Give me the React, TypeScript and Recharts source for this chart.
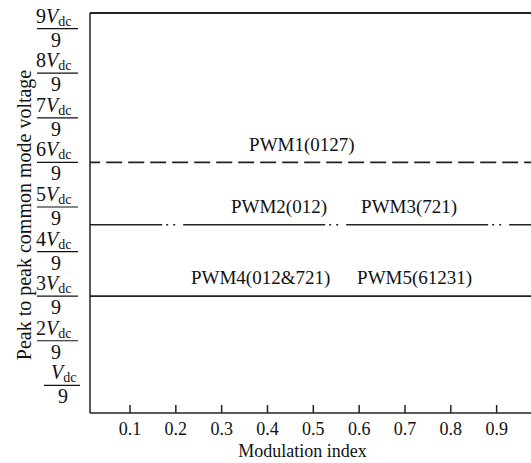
import React from 'react';
import { LineChart, Line, XAxis, YAxis, ReferenceLine, ReferenceDot, Label } from 'recharts';

// modulation index ends of each constant level (clipped by the axis domain)
const modulation = [0, 1];
// peak to peak CMV, in units of Vdc/9
const pwm1 = [6, 6];
const pwm23 = [4.6, 4.6];
const pwm45 = [3, 3];

const xTicks = [0.1, 0.2, 0.3, 0.4, 0.5, 0.6, 0.7, 0.8, 0.9];
const yTicks = [1, 2, 3, 4, 5, 6, 7, 8, 9];

const labelText = ['PWM1(0127)', 'PWM2(012)', 'PWM3(721)', 'PWM4(012&721)', 'PWM5(61231)'];
const labelX = [0.475, 0.425, 0.709, 0.385, 0.721];
const labelLevel = [6, 4.6, 4.6, 3, 3];

const X_DOMAIN: [number, number] = [0.0127, 0.975];
const Y_DOMAIN: [number, number] = [0.38, 9.35];

const data = modulation.map((m, i) => ({
    m,
    pwm1: pwm1[i],
    pwm23: pwm23[i],
    pwm45: pwm45[i],
}));

const FONT = '"Liberation Serif", "Times New Roman", Times, serif';
const INK = '#111';
const LINE = '#222';

// chart sits 8px in from the left edge of the page
const FractionTick = (props: any) => {
    const { y, payload } = props;
    const k = payload.value;
    if (k === 1) {
        return (
            <g fontFamily={FONT}>
                <text x={43} y={y - 6} fontSize={20} fill={INK}>
                    <tspan fontStyle="italic">V</tspan>
                    <tspan fontSize={14} dy={3}>dc</tspan>
                </text>
                <line x1={36} x2={72} y1={y} y2={y} stroke={INK} strokeWidth={1.2} />
                <text x={55} y={y + 18} fontSize={20} fill={INK} textAnchor="middle">9</text>
            </g>
        );
    }
    return (
        <g fontFamily={FONT}>
            <text x={28} y={y - 6} fontSize={20} fill={INK}>
                <tspan>{k}</tspan>
                <tspan fontStyle="italic">V</tspan>
                <tspan fontSize={14} dy={3}>dc</tspan>
            </text>
            <line x1={29} x2={70} y1={y} y2={y} stroke={INK} strokeWidth={1.2} />
            <text x={48} y={y + 18} fontSize={20} fill={INK} textAnchor="middle">9</text>
        </g>
    );
};

// rotated y-axis title
const YTitle = () => (
    <text
        transform="translate(16,215) rotate(-90)"
        textAnchor="middle"
        dominantBaseline="central"
        fontSize={20}
        fill={INK}
        fontFamily={FONT}
    >
        Peak to peak common mode voltage
    </text>
);

const PAGE_CSS = 'html,body{margin:0;padding:0;overflow:hidden;}';

export default function App() {
    return (
        <div style={{ width: 523, height: 463, marginLeft: 8, fontFamily: FONT }}>
            <style>{PAGE_CSS}</style>
            <LineChart width={523} height={463} data={data} margin={{ top: 13, right: 0, bottom: 0, left: 0 }}>
                <XAxis
                    dataKey="m"
                    type="number"
                    domain={X_DOMAIN}
                    allowDataOverflow
                    ticks={xTicks}
                    height={50}
                    tickSize={-8}
                    tickMargin={17}
                    tick={{ fontSize: 18, fill: INK, fontFamily: FONT }}
                    tickLine={{ stroke: LINE, strokeWidth: 1.5 }}
                    axisLine={{ stroke: LINE, strokeWidth: 1.5 }}
                >
                    <Label
                        value="Modulation index"
                        position="insideBottom"
                        offset={6}
                        dx={-8}
                        fontSize={18}
                        fill={INK}
                        fontFamily={FONT}
                    />
                </XAxis>
                <YAxis
                    type="number"
                    domain={Y_DOMAIN}
                    allowDataOverflow
                    ticks={yTicks}
                    width={82}
                    tickLine={false}
                    tick={<FractionTick />}
                    axisLine={{ stroke: LINE, strokeWidth: 1.5 }}
                >
                    <Label content={<YTitle />} />
                </YAxis>
                <ReferenceLine y={Y_DOMAIN[1]} stroke={LINE} strokeWidth={2} />
                <Line
                    dataKey="pwm1"
                    type="linear"
                    stroke={LINE}
                    strokeWidth={1.6}
                    strokeDasharray="16 6"
                    dot={false}
                    isAnimationActive={false}
                />
                <Line
                    dataKey="pwm23"
                    type="linear"
                    stroke={LINE}
                    strokeWidth={1.6}
                    strokeDasharray="142 4 2 5 2 8"
                    strokeDashoffset={64}
                    dot={false}
                    isAnimationActive={false}
                />
                <Line
                    dataKey="pwm45"
                    type="linear"
                    stroke={LINE}
                    strokeWidth={1.6}
                    dot={false}
                    isAnimationActive={false}
                />
                {labelText.map((t, i) => (
                    <ReferenceDot
                        key={t}
                        x={labelX[i]}
                        y={labelLevel[i]}
                        r={0}
                        stroke="none"
                        fill="none"
                        label={{
                            value: t,
                            position: 'top',
                            offset: i === 0 ? 11 : 12,
                            fontSize: 19,
                            fill: INK,
                            fontFamily: FONT,
                        }}
                    />
                ))}
            </LineChart>
        </div>
    );
}
